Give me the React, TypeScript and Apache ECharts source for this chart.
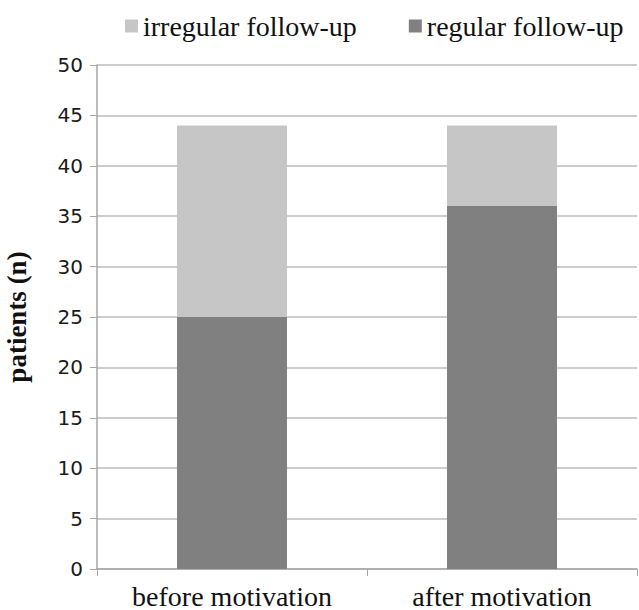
import React, { useEffect, useRef } from "react";
import * as echarts from "echarts";

const categories = ["before motivation", "after motivation"];
const regularFollowUp = [25, 36];
const irregularFollowUp = [19, 8];
const yTicks = { min: 0, max: 50, interval: 5 };

export default function App() {
  const ref = useRef<HTMLDivElement>(null);

  useEffect(() => {
    if (!ref.current) return;
    const chart = echarts.init(ref.current, undefined, { renderer: "svg" });
    const serif = "'Liberation Serif', 'Times New Roman', serif";
    chart.setOption({
      animation: false,
      backgroundColor: "#ffffff",
      legend: {
        top: 7,
        left: 120,
        itemGap: 52,
        itemWidth: 13,
        itemHeight: 13,
        icon: "rect",
        textStyle: { fontFamily: serif, fontSize: 28, color: "#111" },
        data: ["irregular follow-up", "regular follow-up"],
      },
      grid: { left: 97, right: 2, top: 65, bottom: 41, outerBoundsMode: "none", containLabel: false },
      xAxis: {
        type: "category",
        data: categories,
        axisLine: { lineStyle: { color: "#a6a6a6", width: 1.5 } },
        axisTick: { show: true, length: 7, lineStyle: { color: "#a6a6a6" } },
        axisLabel: { fontFamily: serif, fontSize: 28, lineHeight: 26, color: "#111", margin: 14 },
      },
      yAxis: {
        type: "value",
        min: yTicks.min,
        max: yTicks.max,
        interval: yTicks.interval,
        name: "patients (n)",
        nameLocation: "middle",
        nameGap: 67,
        nameTextStyle: { fontFamily: serif, fontSize: 27, fontWeight: "bold", color: "#111" },
        axisLine: { show: true, lineStyle: { color: "#a6a6a6", width: 1.5 } },
        axisTick: { show: true, length: 7, lineStyle: { color: "#a6a6a6" } },
        axisLabel: { fontFamily: "'DejaVu Sans', Verdana, sans-serif", fontSize: 20, color: "#1a1a1a", margin: 14 },
        splitLine: { lineStyle: { color: "#bdbdbd", width: 1.5 } },
      },
      series: [
        {
          name: "regular follow-up",
          type: "bar",
          stack: "total",
          data: regularFollowUp,
          barWidth: 110,
          itemStyle: { color: "#808080" },
        },
        {
          name: "irregular follow-up",
          type: "bar",
          stack: "total",
          data: irregularFollowUp,
          barWidth: 110,
          itemStyle: { color: "#c6c6c6" },
        },
      ],
    });
    return () => chart.dispose();
  }, []);

  return (
    <div
      ref={ref}
      style={{ position: "fixed", left: 0, top: 0, width: 639, height: 610 }}
    />
  );
}
